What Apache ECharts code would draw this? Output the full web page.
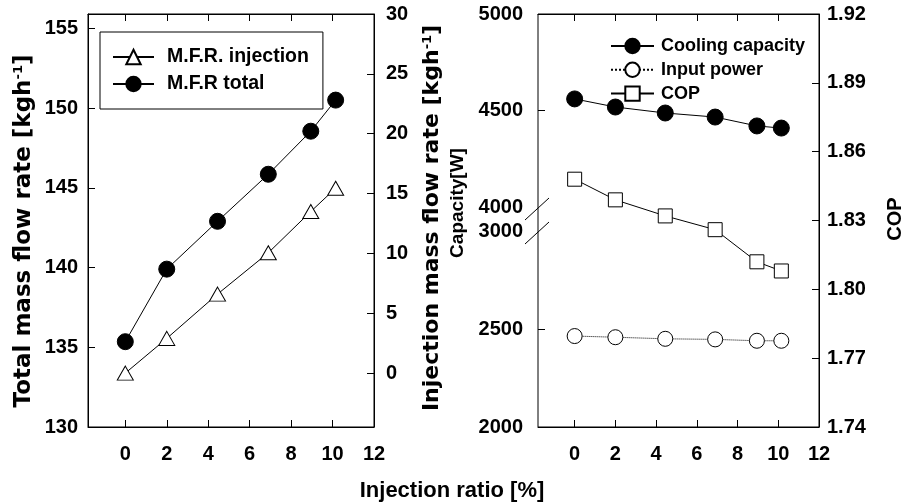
<!DOCTYPE html>
<html><head><meta charset="utf-8">
<script src="https://cdn.jsdelivr.net/npm/echarts@6/dist/echarts.min.js"></script>
<style>html,body{margin:0;padding:0;background:#fff}#c{width:906px;height:504px}</style>
</head><body><div id="c"></div>
<script>
// ---- data ----
const injectionRatio = [0, 2, 4.45, 6.9, 8.95, 10.15];
const mfrTotal = [135.35, 139.9, 142.9, 145.85, 148.55, 150.5];
const mfrInjection = [0, 2.9, 6.6, 10.05, 13.5, 15.45];
const coolingCapacity = [4560, 4518, 4487, 4466, 4420, 4409];
const inputPower = [2464, 2458, 2450, 2447, 2440, 2440];
const cop = [1.848, 1.839, 1.832, 1.826, 1.812, 1.808];
// ---- tick labels ----
const xTicks = [0, 2, 4, 6, 8, 10, 12];
const totalTicks = [130, 135, 140, 145, 150, 155];
const injTicks = [0, 5, 10, 15, 20, 25, 30];
const copTicks = [1.74, 1.77, 1.80, 1.83, 1.86, 1.89, 1.92];
const capUpperTicks = [4000, 4500, 5000];
const capLowerTicks = [2000, 2500, 3000];

const FONT = 'Liberation Sans';
const WIDE = 'DejaVu Sans';
const zip = (xs, ys) => xs.map((x, i) => [x, ys[i]]);
const lbl = (vals, extra) => Object.assign({
  customValues: vals, fontFamily: FONT, fontWeight: 'bold', fontSize: 20, color: '#000',
  formatter: v => String(v)
}, extra || {});
const tick = (vals) => ({ show: true, inside: true, length: 7, customValues: vals, lineStyle: { color: '#000', width: 1 } });
const line = { show: true, onZero: false, lineStyle: { color: '#000', width: 1 } };

function xAx(grid, pos, labels) {
  return {
    type: 'value', gridIndex: grid, position: pos, min: -1.8, max: 12,
    axisLine: line, splitLine: { show: false },
    axisTick: tick(xTicks),
    axisLabel: labels ? lbl(xTicks, { margin: 17 }) : { show: false }
  };
}

const chart = echarts.init(document.getElementById('c'), null, { renderer: 'canvas' });
const option = {
  animation: false,
  backgroundColor: '#fff',
  grid: [
    { left: 88, top: 14, width: 286, height: 413, show: true, borderColor: '#000', borderWidth: 1 },
    { left: 538, top: 14, width: 281, height: 413, show: true, borderColor: '#000', borderWidth: 1 },
    { left: 538, top: 14, width: 281, height: 193 },
    { left: 538, top: 231, width: 281, height: 196 }
  ],
  xAxis: [
    xAx(0, 'bottom', true),
    xAx(0, 'top', false),
    xAx(1, 'bottom', true),
    xAx(1, 'top', false),
    { type: 'value', gridIndex: 2, min: -1.8, max: 12, show: false },
    { type: 'value', gridIndex: 3, min: -1.8, max: 12, show: false }
  ],
  yAxis: [
    { type: 'value', gridIndex: 0, position: 'left', min: 130, max: 155.9,
      axisLine: line, splitLine: { show: false },
      axisTick: tick(totalTicks), axisLabel: lbl(totalTicks, { margin: 10 }) },
    { type: 'value', gridIndex: 0, position: 'right', min: -4.5, max: 30,
      axisLine: line, splitLine: { show: false },
      axisTick: tick(injTicks), axisLabel: lbl(injTicks, { margin: 12 }) },
    { type: 'value', gridIndex: 1, position: 'right', min: 1.74, max: 1.92,
      axisLine: line, splitLine: { show: false },
      axisTick: tick(copTicks), axisLabel: lbl(copTicks, { margin: 8, formatter: v => v.toFixed(2) }) },
    { type: 'value', gridIndex: 2, position: 'left', min: 4000, max: 5000,
      axisLine: { show: false, onZero: false }, splitLine: { show: false },
      axisTick: tick([4500, 5000]), axisLabel: lbl(capUpperTicks, { margin: 15 }) },
    { type: 'value', gridIndex: 3, position: 'left', min: 2000, max: 3000,
      axisLine: { show: false, onZero: false }, splitLine: { show: false },
      axisTick: tick([2000, 2500]), axisLabel: lbl(capLowerTicks, { margin: 15 }) }
  ],
  legend: [
    { orient: 'vertical', left: 100, top: 32, padding: [15, 14, 15, 12],
      borderColor: '#000', borderWidth: 1, borderRadius: 0,
      itemWidth: 41, itemHeight: 18, itemGap: 7,
      textStyle: { fontFamily: FONT, fontWeight: 'bold', fontSize: 19.5, color: '#000', padding: [0, 0, 0, 8] },
      data: ['M.F.R. injection', 'M.F.R total'] },
    { orient: 'vertical', left: 610, top: 37, padding: 0,
      itemWidth: 43, itemHeight: 18, itemGap: 5.8,
      textStyle: { fontFamily: FONT, fontWeight: 'bold', fontSize: 18, color: '#000', padding: [0, 0, 0, 2] },
      data: ['Cooling capacity', 'Input power', 'COP'] }
  ],
  series: [
    { name: 'M.F.R. injection', type: 'line', xAxisIndex: 0, yAxisIndex: 1,
      data: zip(injectionRatio, mfrInjection), symbol: 'triangle', symbolSize: [16, 14],
      itemStyle: { color: '#fff', borderColor: '#000', borderWidth: 1 },
      lineStyle: { color: '#000', width: 1 }, z: 3 },
    { name: 'M.F.R total', type: 'line', xAxisIndex: 0, yAxisIndex: 0,
      data: zip(injectionRatio, mfrTotal), symbol: 'circle', symbolSize: 16,
      itemStyle: { color: '#000', borderColor: '#000', borderWidth: 1 },
      lineStyle: { color: '#000', width: 1 }, z: 3 },
    { name: 'Cooling capacity', type: 'line', xAxisIndex: 4, yAxisIndex: 3,
      data: zip(injectionRatio, coolingCapacity), symbol: 'circle', symbolSize: 16,
      itemStyle: { color: '#000', borderColor: '#000', borderWidth: 1 },
      lineStyle: { color: '#000', width: 1 }, z: 3 },
    { name: 'Input power', type: 'line', xAxisIndex: 5, yAxisIndex: 4,
      data: zip(injectionRatio, inputPower), symbol: 'circle', symbolSize: 15,
      itemStyle: { color: '#fff', borderColor: '#000', borderWidth: 1 },
      lineStyle: { color: '#000', width: 1, type: 'dotted' }, z: 3 },
    { name: 'COP', type: 'line', xAxisIndex: 2, yAxisIndex: 2,
      data: zip(injectionRatio, cop), symbol: 'rect', symbolSize: 14,
      itemStyle: { color: '#fff', borderColor: '#000', borderWidth: 1 },
      lineStyle: { color: '#000', width: 1 }, z: 3 }
  ],
  graphic: [
    { type: 'line', shape: { x1: 525, y1: 220, x2: 549, y2: 198 }, style: { stroke: '#000', lineWidth: 1 } },
    { type: 'line', shape: { x1: 525, y1: 244, x2: 549, y2: 222 }, style: { stroke: '#000', lineWidth: 1 } },
    { type: 'text', x: 24, y: 231, rotation: Math.PI / 2,
      style: { text: 'Total mass flow rate [kgh{sup|-1}]', fontFamily: WIDE, fontWeight: 'bold', fontSize: 23,
        fill: '#000', align: 'center', verticalAlign: 'middle',
        rich: { sup: { fontFamily: WIDE, fontWeight: 'bold', fontSize: 13, fill: '#000', verticalAlign: 'top' } } } },
    { type: 'text', x: 432, y: 218, rotation: Math.PI / 2,
      style: { text: 'Injection mass flow rate [kgh{sup|-1}]', fontFamily: WIDE, fontWeight: 'bold', fontSize: 22,
        fill: '#000', align: 'center', verticalAlign: 'middle',
        rich: { sup: { fontFamily: WIDE, fontWeight: 'bold', fontSize: 13, fill: '#000', verticalAlign: 'top' } } } },
    { type: 'text', x: 458, y: 203, rotation: Math.PI / 2,
      style: { text: 'Capacity[W]', fontFamily: FONT, fontWeight: 'bold', fontSize: 19,
        fill: '#000', align: 'center', verticalAlign: 'middle' } },
    { type: 'text', x: 895, y: 219, rotation: Math.PI / 2,
      style: { text: 'COP', fontFamily: FONT, fontWeight: 'bold', fontSize: 20,
        fill: '#000', align: 'center', verticalAlign: 'middle' } },
    { type: 'text', x: 452, y: 491,
      style: { text: 'Injection ratio [%]', fontFamily: FONT, fontWeight: 'bold', fontSize: 22,
        fill: '#000', align: 'center', verticalAlign: 'middle' } }
  ]
};
chart.setOption(option);
</script>
</body></html>
